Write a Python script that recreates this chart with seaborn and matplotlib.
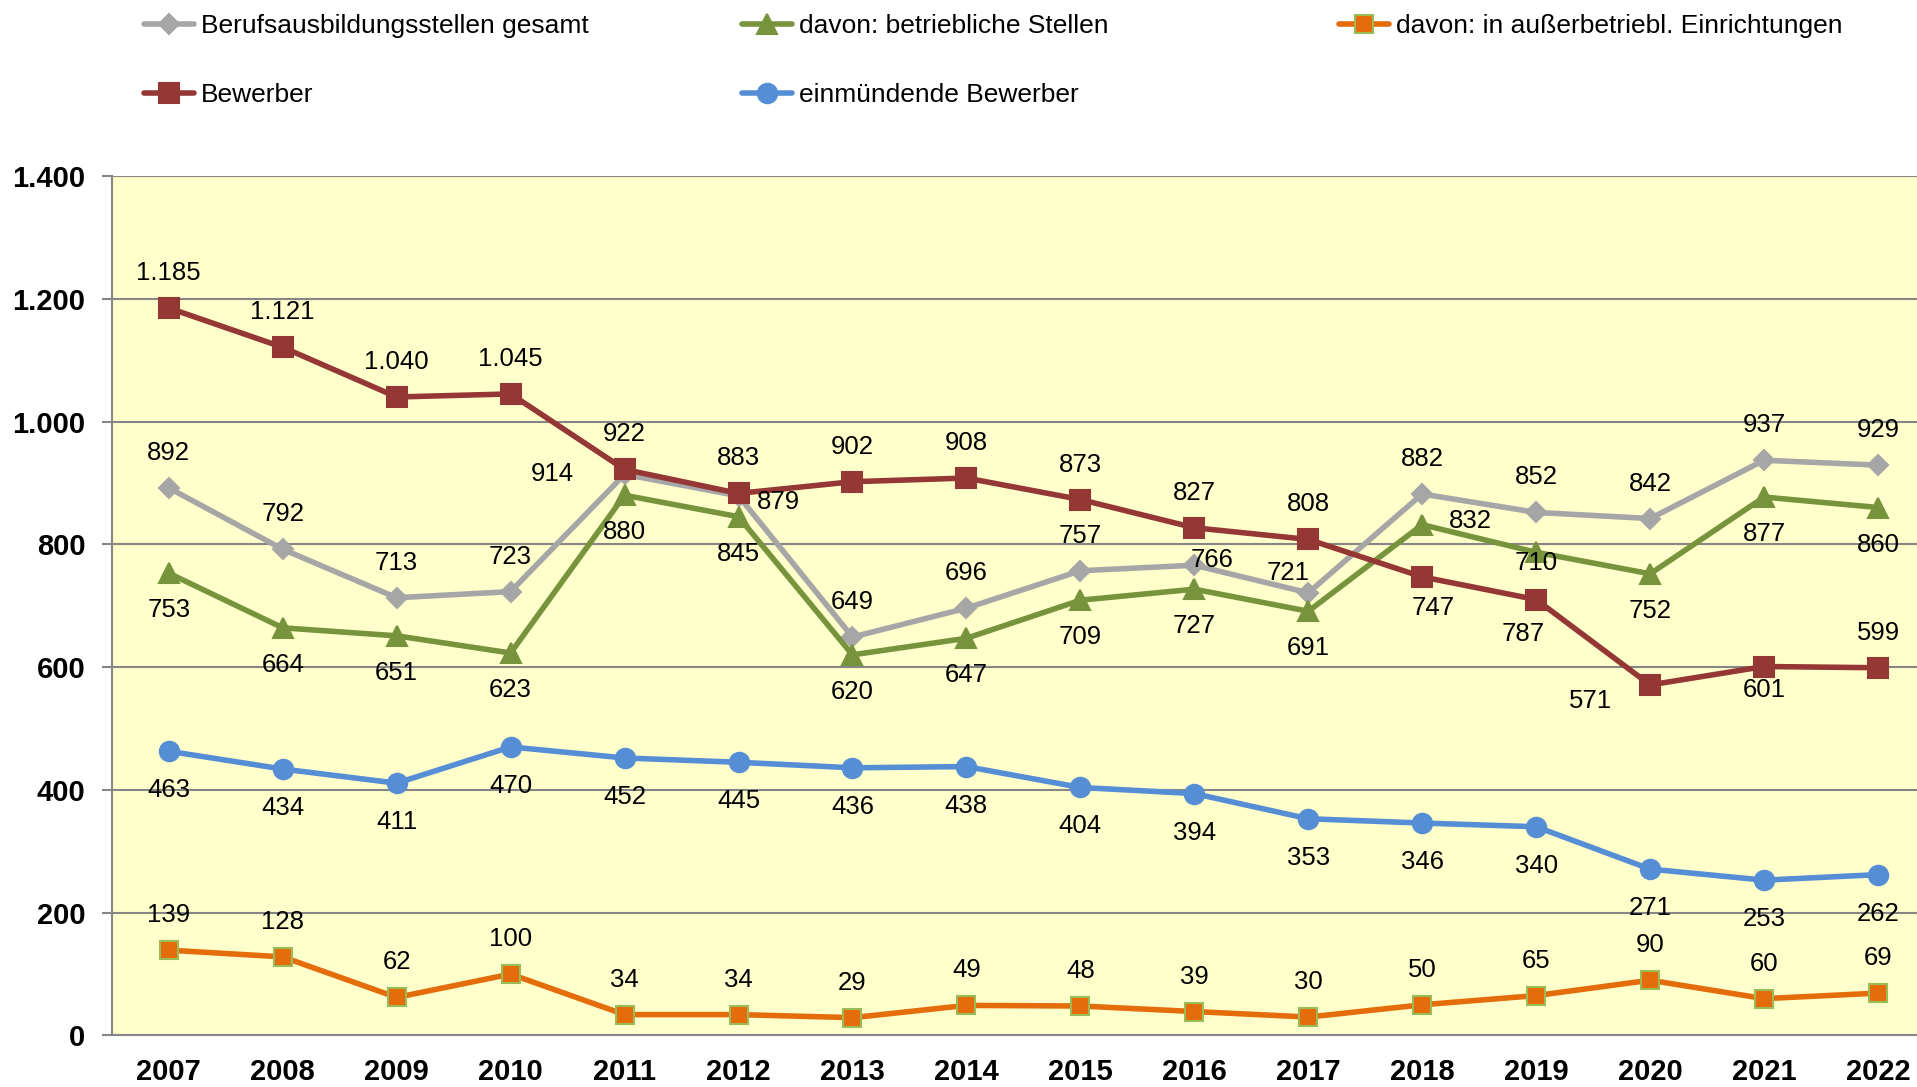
import matplotlib
matplotlib.use('Agg')
import matplotlib.pyplot as plt
import seaborn as sns

# ------------------------------
# Daten
# ------------------------------
years = list(range(2007, 2023))
gesamt = [892, 792, 713, 723, 914, 879, 649, 696, 757, 766, 721, 882, 852, 842, 937, 929]
betrieblich = [753, 664, 651, 623, 880, 845, 620, 647, 709, 727, 691, 832, 787, 752, 877, 860]
ausserbetrieblich = [139, 128, 62, 100, 34, 34, 29, 49, 48, 39, 30, 50, 65, 90, 60, 69]
bewerber = [1185, 1121, 1040, 1045, 922, 883, 902, 908, 873, 827, 808, 747, 710, 571, 601, 599]
einmuendend = [463, 434, 411, 470, 452, 445, 436, 438, 404, 394, 353, 346, 340, 271, 253, 262]

y_ticks = [0, 200, 400, 600, 800, 1000, 1200, 1400]
y_ticklabels = ['0', '200', '400', '600', '800', '1.000', '1.200', '1.400']

# ------------------------------
# Stil
# ------------------------------
sns.set_style('white')
plt.rcParams['font.family'] = ['Liberation Sans', 'DejaVu Sans']
plt.rcParams['text.color'] = 'black'

# name, werte, farbe, marker, markersize, kantenfarbe, standard-offset (px), einzelne offsets
series = [
    ('Berufsausbildungsstellen gesamt', gesamt, '#A6A6A6', 'D', 10, '#A6A6A6', (0, 35),
     {2011: (-72, 0), 2012: (40, -6), 2016: (18, 5), 2017: (-20, 20)}),
    ('davon: betriebliche Stellen', betrieblich, '#77933C', '^', 14.5, '#77933C', (0, -37),
     {2018: (48, 4), 2019: (-13, -82)}),
    ('davon: in außerbetriebl. Einrichtungen', ausserbetrieblich, '#E46C0A', 's', 13.5, '#9BBB59', (0, 35),
     {}),
    ('Bewerber', bewerber, '#953735', 's', 14.5, '#953735', (0, 35),
     {2018: (11, -31), 2019: (0, 37), 2020: (-60, -16), 2021: (0, -23)}),
    ('einmündende Bewerber', einmuendend, '#558ED5', 'o', 14, '#558ED5', (0, -39),
     {}),
]

fig = plt.figure(figsize=(19.17, 10.87), dpi=100)
ax = fig.add_axes([0.0583, 0.0474, 0.9511, 0.7907])
ax.set_facecolor('#FFFFCC')

for name, vals, color, marker, ms, mec, off, special in series:
    sns.lineplot(x=years, y=vals, ax=ax, color=color, marker=marker, markersize=ms,
                 markeredgecolor=mec, markeredgewidth=1.5, linewidth=4, label=name)
    for yr, v in zip(years, vals):
        dx, dy = special.get(yr, off)
        ax.annotate(f'{v:,}'.replace(',', '.'), xy=(yr, v), xytext=(dx, dy),
                    textcoords='offset pixels', ha='center', va='center',
                    fontsize=18.5, color='black', zorder=10)

# Achsen
ax.set_xlim(2006.5, 2022.5)
ax.set_ylim(0, 1400)
ax.set_yticks(y_ticks)
ax.set_yticklabels(y_ticklabels, fontsize=21, fontweight='bold')
ax.set_xticks(years)
ax.set_xticklabels([str(y) for y in years], fontsize=21, fontweight='bold')
ax.set_xticks([y + 0.5 for y in years[:-1]] + [2006.5], minor=True)
ax.tick_params(axis='x', which='major', length=0, pad=16, labelcolor='black')
ax.tick_params(axis='x', which='minor', length=9, width=1.5, color='#868686', direction='out')
ax.tick_params(axis='y', which='major', length=7, width=1.5, color='#868686', pad=12,
               left=True, labelcolor='black')
ax.set_xlabel('')
ax.set_ylabel('')

ax.yaxis.grid(True, color='#868686', linewidth=1.5)
ax.xaxis.grid(False)
ax.set_axisbelow(True)
for side in ['top', 'right']:
    ax.spines[side].set_visible(False)
for side in ['left', 'bottom']:
    ax.spines[side].set_color('#868686')
    ax.spines[side].set_linewidth(1.5)

# Legende in drei Spalten
handles, labels = ax.get_legend_handles_labels()
ax.legend_.remove()
cols = [([0, 3], 0.0751), ([1, 4], 0.387), ([2], 0.6985)]
for idx, x0 in cols:
    fig.legend([handles[i] for i in idx], [labels[i] for i in idx],
               loc='upper left', bbox_to_anchor=(x0, 0.987), frameon=False,
               fontsize=19, handlelength=1.9, handletextpad=0.25,
               labelspacing=1.7, borderpad=0, borderaxespad=0, labelcolor='black')

fig.savefig('out.png', dpi=100)
